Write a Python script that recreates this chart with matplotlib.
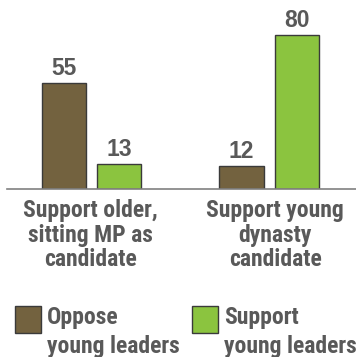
import numpy as np
import matplotlib.pyplot as plt
from matplotlib import font_manager as fm
from matplotlib.patches import Rectangle

plt.rcParams['font.family'] = ['Liberation Sans', 'DejaVu Sans']

# the reference uses a narrow bold face; use one if it is there
installed = {f.name for f in fm.fontManager.ttflist}
if 'Roboto Condensed' in installed:
    label_font, label_size = ['Roboto Condensed', 'Liberation Sans', 'DejaVu Sans'], 17
else:
    label_font, label_size = ['Liberation Sans', 'DejaVu Sans'], 14.5
ls_scale = 17 / label_size

categories = ['Support older,\nsitting MP as\ncandidate', 'Support young\ndynasty\ncandidate']
series_names = ['Oppose\nyoung leaders', 'Support\nyoung leaders']
oppose = [55, 12]
support = [13, 80]
colors = ['#73623f', '#8bc43f']
text_color = '#595959'

W, H = 356, 357
fig = plt.figure(figsize=(W / 100, H / 100), dpi=100)
ax = fig.add_axes([7 / W, (H - 189) / H, 349 / W, 189 / H])

x = np.arange(len(categories))
width = 0.248
off = 0.155
for vals, dx, c in [(oppose, -off, colors[0]), (support, off, colors[1])]:
    bars = ax.bar(x + dx, vals, width, color=c, edgecolor='#3a3a3a', linewidth=1)
    for b, v in zip(bars, vals):
        ax.annotate(str(v), (b.get_x() + b.get_width() / 2, v), xytext=(0, 2),
                    textcoords='offset points', ha='center', va='bottom',
                    fontsize=16.5, fontweight='bold', color=text_color)

ax.set_xlim(-0.476, 1.490)
ax.set_ylim(0, 189 / 1.925)
for s in ['top', 'right', 'left']:
    ax.spines[s].set_visible(False)
ax.spines['bottom'].set_color('#808080')
ax.spines['bottom'].set_linewidth(1.2)
ax.set_yticks([])
ax.set_xticks([])

# category labels under each group (second one sits a little right)
for xi, cat, dx in zip(x, categories, [-1, 4.5]):
    ax.annotate(cat, (xi, 0), xytext=(dx, -7), textcoords='offset points',
                ha='center', va='top', fontsize=label_size, fontweight='bold',
                color=text_color, linespacing=1.1 * ls_scale, family=label_font,
                annotation_clip=False)

# legend drawn by hand to match the layout
for i, (name, c) in enumerate(zip(series_names, colors)):
    px = [15, 192][i]
    fig.patches.append(Rectangle((px / W, (H - 333) / H), 26 / W, 27 / H,
                                 transform=fig.transFigure, facecolor=c,
                                 edgecolor='#3a3a3a', linewidth=1))
    fig.text((px + 32) / W, (H - 306) / H, name, ha='left', va='top',
             fontsize=label_size, fontweight='bold', color=text_color,
             linespacing=1.35 * ls_scale, family=label_font)

fig.savefig('out.png', dpi=100)
